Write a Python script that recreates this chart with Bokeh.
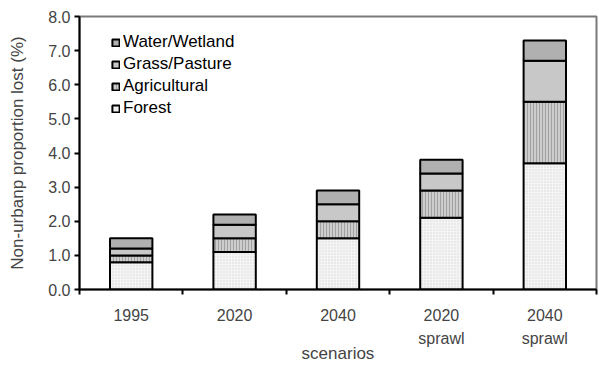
from bokeh.plotting import figure
from bokeh.models import ColumnDataSource, FixedTicker, Range1d, NumeralTickFormatter, Legend
from bokeh.embed import file_html
from bokeh.resources import INLINE

scenarios = ["1995", "2020", "2040", "2020\nsprawl", "2040\nsprawl"]
forest = [0.8, 1.1, 1.5, 2.1, 3.7]
agricultural = [0.2, 0.4, 0.5, 0.8, 1.8]
grass = [0.2, 0.4, 0.5, 0.5, 1.2]
water = [0.3, 0.3, 0.4, 0.4, 0.6]
y_ticks = [0, 1, 2, 3, 4, 5, 6, 7, 8]

xpos = [i + 0.5 for i in range(len(scenarios))]
src = ColumnDataSource(dict(x=xpos, Forest=forest, Agricultural=agricultural,
                            Grass=grass, Water=water))

FONT = "Liberation Sans"
p = figure(width=598, height=366, output_backend="svg", toolbar_location=None,
           x_range=Range1d(0, len(scenarios)), y_range=Range1d(0, 8),
           min_border_left=79, min_border_right=2, min_border_top=16, min_border_bottom=76)

rs = p.vbar_stack(["Forest", "Agricultural", "Grass", "Water"], x="x", width=0.41, source=src,
                  fill_color=["#f4f4f4", "#cdcdcd", "#c8c8c8", "#b0b0b0"],
                  hatch_pattern=["dot", "vertical_line", " ", " "],
                  hatch_color=["#d8d8d8", "#a0a0a0", "#c8c8c8", "#b0b0b0"],
                  hatch_scale=[3, 3, 3, 3], hatch_weight=[1, 1, 1, 1],
                  line_color="black", line_width=2)

names = ["Forest", "Agricultural", "Grass/Pasture", "Water/Wetland"]
items = [(names[i], [rs[i]]) for i in [3, 2, 1, 0]]
legend = Legend(items=items, location=(32, 171), margin=0, padding=0,
                label_text_font=FONT, label_text_font_size="17px", label_text_color="black",
                glyph_width=9, glyph_height=9, label_height=20, spacing=2,
                border_line_color=None, background_fill_alpha=0, label_standoff=3)
p.add_layout(legend, "center")

p.grid.visible = False
p.outline_line_color = "#7a7a7a"
p.outline_line_width = 2

# x axis
xa = p.xaxis[0]
xa.ticker = FixedTicker(ticks=xpos, minor_ticks=[0, 1, 2, 3, 4, 5])
xa.major_label_overrides = {xpos[i]: scenarios[i] for i in range(len(scenarios))}
xa.major_tick_line_color = None
xa.minor_tick_in = 0
xa.minor_tick_out = 5
xa.minor_tick_line_width = 2
xa.minor_tick_line_color = "black"
xa.axis_line_width = 2
xa.axis_label = "scenarios"
xa.axis_label_text_font = FONT
xa.axis_label_text_font_size = "17px"
xa.axis_label_text_font_style = "normal"
xa.axis_label_standoff = -6
xa.major_label_text_font = FONT
xa.major_label_text_font_size = "16px"
xa.major_label_text_line_height = 1.4
xa.major_label_standoff = 11

ya = p.yaxis[0]
ya.ticker = FixedTicker(ticks=y_ticks, minor_ticks=[])
ya.formatter = NumeralTickFormatter(format="0.0")
ya.major_tick_in = 0
ya.major_tick_out = 5
ya.major_tick_line_width = 2
ya.axis_line_width = 2
ya.axis_label = "Non-urbanp proportion lost (%)"
ya.axis_label_text_font = FONT
ya.axis_label_text_font_size = "17px"
ya.axis_label_text_font_style = "normal"
ya.axis_label_standoff = 18
ya.major_label_text_font = FONT
ya.major_label_text_font_size = "16px"
ya.major_label_standoff = 4

open("out.html", "w").write(file_html(p, INLINE))
